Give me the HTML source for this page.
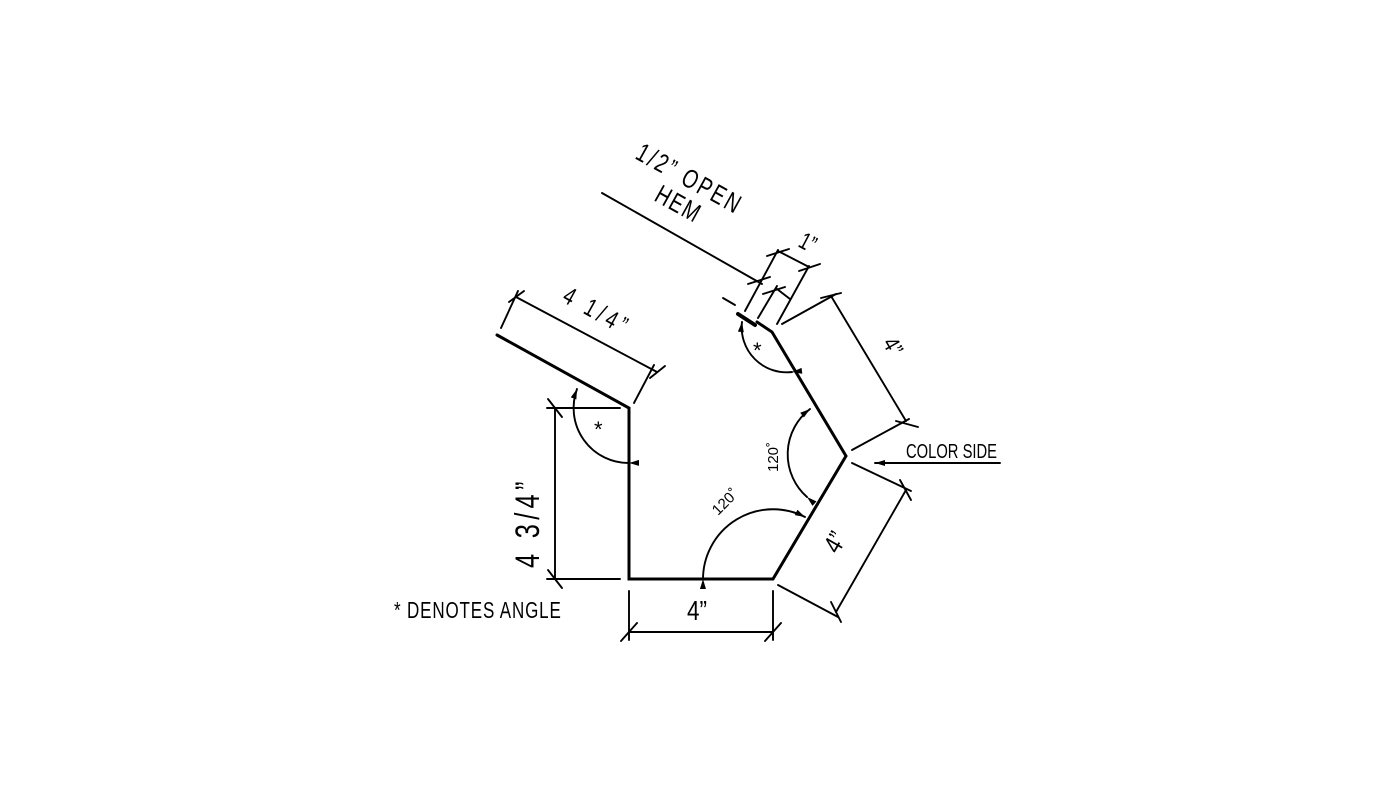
<!DOCTYPE html>
<html><head><style>body{margin:0;background:#fff}svg{display:block}text{font-family:"Liberation Sans",sans-serif;fill:#000}</style></head>
<body>
<svg width="1400" height="788" viewBox="0 0 1400 788" xmlns="http://www.w3.org/2000/svg">
<defs>
<marker id="a" viewBox="0 0 10 6" refX="10" refY="3" markerWidth="11" markerHeight="6" orient="auto" markerUnits="userSpaceOnUse"><path d="M0,0 L10,3 L0,6 z" fill="#000"/></marker>
</defs>
<g stroke="#000" fill="none" stroke-linecap="round">
<polyline points="497,335 629,408 629,579 773,579 846,456 772,332 757,322" stroke-width="3"/>
<path d="M738,314 L755,325" stroke-width="4"/>
<g stroke-width="1.9">
<line x1="516" y1="297" x2="657" y2="372"/>
<line x1="501" y1="328" x2="518" y2="291"/>
<line x1="634" y1="403" x2="654" y2="365"/>
<line x1="509" y1="302" x2="524" y2="291"/><line x1="650" y1="378" x2="665" y2="366"/>
<line x1="555" y1="408" x2="555" y2="579"/>
<line x1="547" y1="408" x2="620" y2="408"/>
<line x1="547" y1="579" x2="620" y2="579"/>
<line x1="548" y1="399" x2="562" y2="417"/><line x1="548" y1="570" x2="562" y2="588"/>
<line x1="629" y1="632" x2="773" y2="632"/>
<line x1="629" y1="591" x2="629" y2="640"/>
<line x1="773" y1="591" x2="773" y2="640"/>
<line x1="621" y1="641" x2="637" y2="623"/><line x1="765" y1="641" x2="781" y2="623"/>
<line x1="831" y1="296" x2="906" y2="421"/>
<line x1="782" y1="324" x2="836" y2="294"/>
<line x1="852" y1="450" x2="909" y2="419"/>
<line x1="821" y1="298" x2="841" y2="293"/><line x1="896" y1="421" x2="918" y2="427"/>
<line x1="906" y1="490" x2="836" y2="612"/>
<line x1="852" y1="463" x2="911" y2="491"/>
<line x1="778" y1="585" x2="838" y2="617"/>
<line x1="900" y1="480" x2="911" y2="500"/><line x1="831" y1="602" x2="841" y2="622"/>
<line x1="745" y1="311" x2="778" y2="250"/>
<line x1="758" y1="318" x2="777" y2="286"/>
<line x1="777" y1="324" x2="809" y2="266"/>
<line x1="778" y1="251" x2="809" y2="267"/>
<line x1="777" y1="289" x2="790" y2="299"/>
<line x1="767" y1="256" x2="789" y2="249"/><line x1="799" y1="271" x2="820" y2="264"/>
<line x1="748" y1="284" x2="770" y2="277"/><line x1="763" y1="294" x2="785" y2="287"/>
<line x1="602" y1="193" x2="762" y2="284"/>
<line x1="723" y1="298" x2="735" y2="305"/>
<line x1="1000" y1="463" x2="875" y2="463" marker-end="url(#a)"/>
<path d="M629,463 A55,55 0 0 1 577,389" marker-start="url(#a)" marker-end="url(#a)"/>
<path d="M792,372 A45,45 0 0 1 742,322" marker-start="url(#a)" marker-end="url(#a)"/>
<path d="M807,497 A57,57 0 0 1 810,409" marker-start="url(#a)" marker-end="url(#a)"/>
<path d="M703,579 A70,70 0 0 1 805,517" marker-start="url(#a)" marker-end="url(#a)"/>
</g>
</g>
<g font-size="20">
<text x="0" y="0" transform="translate(561,301) rotate(29) scale(0.85,1.15)" font-size="22" letter-spacing="5">4 1/4”</text>
<text x="0" y="0" transform="translate(539,568) rotate(-90) scale(0.85,1.15)" font-size="30" letter-spacing="5">4 3/4”</text>
<text x="687" y="620" font-size="25" transform="translate(687,620) scale(0.9,1.1) translate(-687,-620)">4”</text>
<text x="0" y="0" transform="translate(882,343) rotate(60) scale(0.9,1.1)" font-size="21">4”</text>
<text x="0" y="0" transform="translate(838,555) rotate(-60) scale(0.9,1.1)" font-size="24">4”</text>
<text x="0" y="0" transform="translate(797,246) rotate(28) scale(0.85,1.15)" font-size="21">1”</text>
<text x="0" y="0" transform="translate(634,158) rotate(29) scale(0.85,1.15)" font-size="23" letter-spacing="3">1/2” OPEN</text>
<text x="0" y="0" transform="translate(653,200) rotate(29) scale(0.85,1.15)" font-size="23" letter-spacing="2">HEM</text>
<text x="0" y="0" transform="translate(906,458) scale(0.82,1.15)" font-size="18">COLOR SIDE</text>
<text x="0" y="0" transform="translate(394,618) scale(0.85,1.15)" font-size="20" letter-spacing="1">* DENOTES ANGLE</text>
<text x="0" y="0" transform="translate(778,472) rotate(-90)" font-size="15">120˚</text>
<text x="0" y="0" transform="translate(718,516) rotate(-45)" font-size="15">120˚</text>
<text x="594" y="437" font-size="22">*</text>
<text x="753" y="358" font-size="22">*</text>
</g>
</svg>
</body></html>
